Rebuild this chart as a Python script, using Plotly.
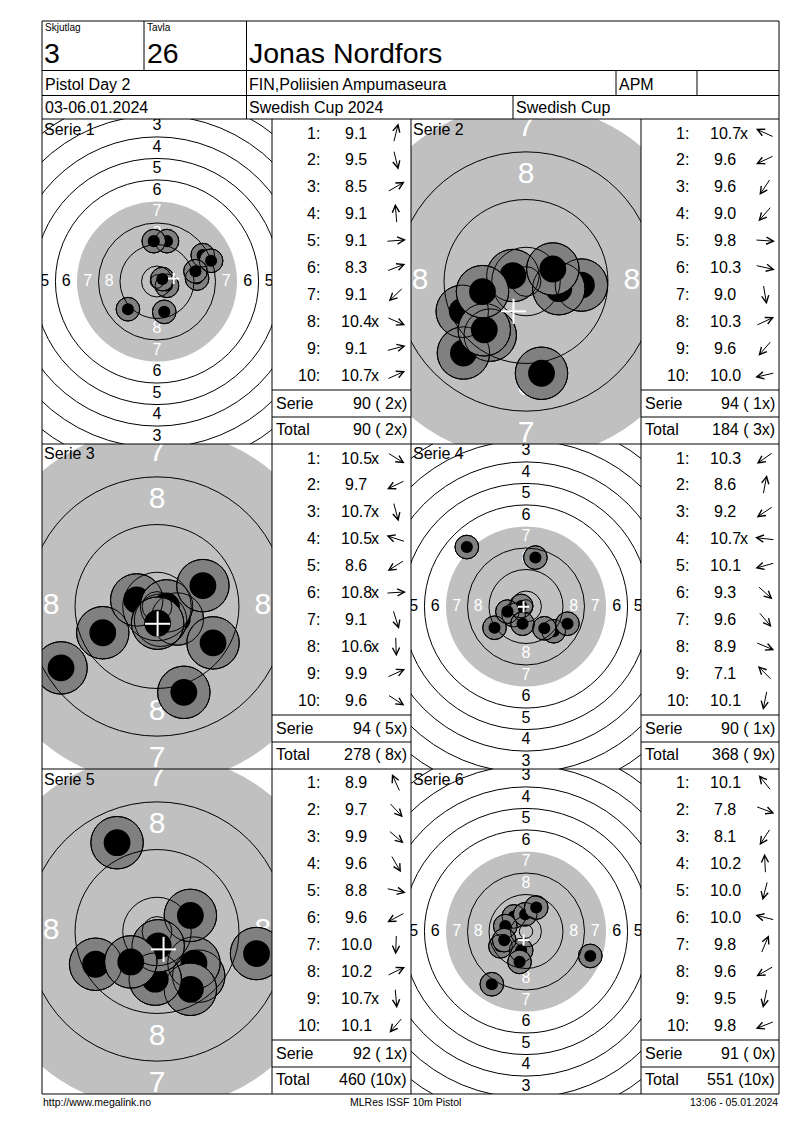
import numpy as np
import plotly.graph_objects as go

FONT = "Liberation Sans, Arial, sans-serif"
# the page body has an 8 px margin, so the figure is 8 px smaller and all
# sheet coordinates below are page pixels shifted by that margin
OFF = 8
W, H = 800 - OFF, 1130 - OFF

# header / footer texts
squad = "3"
lane = "26"
shooter = "Jonas Nordfors"
event = "Pistol Day 2"
club = "FIN,Poliisien Ampumaseura"
club_code = "APM"
dates = "03-06.01.2024"
competition = "Swedish Cup 2024"
cup = "Swedish Cup"
footer_left = "http://www.megalink.no"
footer_mid = "MLRes ISSF 10m Pistol"
footer_right = "13:06 - 05.01.2024"

# shots: score text and hit position in mm from target centre (x right, y up)
s1_scores = ["9.1", "9.5", "8.5", "9.1", "9.1", "8.3", "9.1", "10.4x", "9.1", "10.7x"]
s1_x = [3.7, 2.7, 17.0, -1.2, 14.9, 20.1, -10.8, 3.7, 14.3, 2.0]
s1_y = [15.0, -11.3, 9.8, 15.0, 1.1, 7.7, -10.3, -1.6, 3.8, 0.9]

s2_scores = ["10.7x", "9.6", "9.6", "9.0", "9.8", "10.3", "9.0", "10.3", "9.6", "10.0"]
s2_x = [-2.2, -10.7, -6.0, -10.5, 9.3, 5.5, 2.6, 4.5, -7.0, -7.3]
s2_y = [1.0, -5.0, -9.0, -12.0, -0.6, -1.2, -15.4, 2.1, -8.1, -1.7]

s3_scores = ["10.5x", "9.7", "10.7x", "10.5x", "8.6", "10.8x", "9.1", "10.6x", "9.9", "9.6"]
s3_x = [3.4, -9.1, 0.6, -3.4, -16.1, 1.6, 4.5, 0.1, 7.7, 9.4]
s3_y = [-2.1, -4.4, -2.3, 1.1, -10.3, 0.1, -14.4, -2.8, 3.5, -6.1]

s4_scores = ["10.3", "8.6", "9.2", "10.7x", "10.1", "9.3", "9.6", "8.9", "7.1", "10.1"]
s4_x = [-4.6, 3.5, -11.7, -1.8, -6.9, 10.3, 6.8, 15.4, -22.0, -1.3]
s4_y = [-3.2, 18.2, -7.9, 0.2, -1.9, -9.2, -8.1, -6.4, 22.1, -6.4]

s5_scores = ["8.9", "9.7", "9.9", "9.6", "8.8", "9.6", "10.0", "10.2", "10.7x", "10.1"]
s5_x = [-6.7, 7.0, 6.2, 5.6, 16.7, -10.3, -0.3, 5.6, 0.2, -4.4]
s5_y = [14.9, -7.5, -5.3, -9.7, -3.7, -5.5, -8.0, 2.7, -2.4, -5.1]

s6_scores = ["10.1", "7.8", "8.1", "10.2", "10.0", "10.0", "9.8", "9.6", "9.5", "9.8"]
s6_x = [-4.5, 23.9, -12.7, -0.3, -1.8, -7.7, 3.8, -9.5, -2.4, -8.1]
s6_y = [5.6, -9.1, -19.6, 6.4, -7.0, 2.0, 8.9, -5.5, -11.3, -3.2]

# mean point of impact (white cross), mm
mpi_x = [6.2, -2.1, 0.1, -0.9, 1.1, -0.9]
mpi_y = [1.1, -5.0, -2.9, -0.1, -3.0, -3.2]

serie_sum = [90, 94, 94, 90, 92, 91]
serie_inner = [2, 1, 5, 1, 1, 0]
total_sum = [90, 184, 278, 368, 460, 551]
total_inner = [2, 3, 8, 9, 10, 10]

# ISSF 10m pistol target, ring radii in mm (ring 1 .. ring 10)
ring_radii = [77.75, 69.75, 61.75, 53.75, 45.75, 37.75, 29.75, 21.75, 13.75, 5.75]
inner_ten = 2.5
black_radius = 29.75
label_rings = [1, 2, 3, 4, 5, 6, 7, 8]
hole_r, pellet_r = 4.4, 2.25

series = [
    (s1_scores, s1_x, s1_y), (s2_scores, s2_x, s2_y),
    (s3_scores, s3_x, s3_y), (s4_scores, s4_x, s4_y),
    (s5_scores, s5_x, s5_y), (s6_scores, s6_x, s6_y),
]

# page layout in pixels: target box (x0, y0, x1, y1), px per mm, table left/right
panels = [
    (42, 119, 272, 444, 2.69, 272, 411),
    (411, 119, 641, 444, 5.96, 641, 779),
    (42, 444, 272, 769, 5.96, 272, 411),
    (411, 444, 641, 769, 2.69, 641, 779),
    (42, 769, 272, 1094, 5.96, 272, 411),
    (411, 769, 641, 1094, 2.69, 641, 779),
]


def px(x):
    return (x - OFF) / W


def py(y):
    return 1 - (y - OFF) / H


fig = go.Figure()
shapes = []
annotations = []


def line(x0, y0, x1, y1, color="black", width=1):
    shapes.append(dict(type="line", xref="paper", yref="paper",
                       x0=px(x0), y0=py(y0), x1=px(x1), y1=py(y1),
                       line=dict(color=color, width=width), layer="above"))


def text(x, y, s, size=16, anchor="left", color="black"):
    annotations.append(dict(xref="paper", yref="paper", x=px(x), y=py(y), text=s,
                            showarrow=False, xanchor=anchor, yanchor="middle",
                            borderpad=0, font=dict(family=FONT, size=size, color=color)))


def circle(xr, yr, r, fill=None, color="black", width=1, layer="above", cx=0, cy=0):
    shapes.append(dict(type="circle", xref=xr, yref=yr,
                       x0=cx - r, x1=cx + r, y0=cy - r, y1=cy + r,
                       fillcolor=fill if fill else "rgba(0,0,0,0)",
                       line=dict(color=color, width=width), layer=layer))


for k, (x0, y0, x1, y1, scale, t0, t1) in enumerate(panels):
    sfx = "" if k == 0 else str(k + 1)
    xr, yr = "x" + sfx, "y" + sfx
    hw = (x1 - x0) / 2 / scale
    hh = (y1 - y0) / 2 / scale
    fig.update_layout(**{
        "xaxis" + sfx: dict(domain=[px(x0), px(x1)], range=[-hw, hw], visible=False,
                            fixedrange=True, anchor=yr),
        "yaxis" + sfx: dict(domain=[py(y1), py(y0)], range=[-hh, hh], visible=False,
                            fixedrange=True, anchor=xr),
    })
    big = scale > 4

    # black (grey) aiming area
    circle(xr, yr, black_radius, fill="#c0c0c0", color="#c0c0c0", width=0, layer="below")

    # ring numbers
    lx, ly, lt, lc = [], [], [], []
    for n in label_rings:
        r = ring_radii[n - 1] - 4
        for dx, dy in [(0, 1), (0, -1), (1, 0), (-1, 0)]:
            lx.append(dx * r)
            ly.append(dy * r)
            lt.append(str(n))
            lc.append("white" if n >= 7 else "black")
    fig.add_trace(go.Scatter(x=lx, y=ly, mode="text", text=lt, xaxis=xr, yaxis=yr,
                             textfont=dict(family=FONT, size=30 if big else 16, color=lc),
                             hoverinfo="skip", showlegend=False, cliponaxis=True))

    scores, sx, sy = series[k]
    # shots
    for x, y in zip(sx, sy):
        circle(xr, yr, hole_r, fill="#808080", cx=x, cy=y)
        circle(xr, yr, pellet_r, fill="black", width=0, cx=x, cy=y)
    # ring lines
    for r in ring_radii + [inner_ten]:
        if r != black_radius:
            circle(xr, yr, r)
    for x, y in zip(sx, sy):
        circle(xr, yr, hole_r, cx=x, cy=y)
    # mean point of impact
    c = 2.1
    for ddx, ddy in [(c, 0), (0, c)]:
        shapes.append(dict(type="line", xref=xr, yref=yr,
                           x0=mpi_x[k] - ddx, x1=mpi_x[k] + ddx,
                           y0=mpi_y[k] - ddy, y1=mpi_y[k] + ddy,
                           line=dict(color="white", width=2), layer="above"))

    text(x0 + 1, y0 + 10, "Serie %d" % (k + 1))

    # score table
    for i, (s, x, y) in enumerate(zip(scores, sx, sy)):
        ry = y0 + 14 + 26.9 * i
        text(t0 + 49, ry, "%d:" % (i + 1), anchor="right")
        text(t0 + 84, ry, s.rstrip("x"), anchor="center")
        if s.endswith("x"):
            text(t0 + 98, ry, "x")
        ang = np.arctan2(y, x)
        L = 20
        hx = t0 + 124 + L / 2 * np.cos(ang)
        hy = ry - L / 2 * np.sin(ang)
        annotations.append(dict(xref="paper", yref="paper", x=px(hx), y=py(hy),
                                ax=-L * np.cos(ang), ay=L * np.sin(ang),
                                axref="pixel", ayref="pixel", text="", showarrow=True,
                                arrowhead=5, arrowsize=1.4, arrowwidth=1,
                                arrowcolor="black", standoff=0, startstandoff=0))
    line(t0, y0 + 271, t1, y0 + 271)
    line(t0, y0 + 298, t1, y0 + 298)
    text(t0 + 3, y0 + 284.5, "Serie")
    text(t1 - 3, y0 + 284.5, "%d (%2dx)" % (serie_sum[k], serie_inner[k]), anchor="right")
    text(t0 + 3, y0 + 310.5, "Total")
    text(t1 - 3, y0 + 310.5, "%d (%2dx)" % (total_sum[k], total_inner[k]), anchor="right")

# grid of the sheet
L_, R_, T_, B_ = 42, 779, 21, 1094
line(L_, T_, R_, T_)
line(L_, B_, R_, B_)
line(L_, T_, L_, B_)
line(R_, T_, R_, B_)
for yy in [70.5, 95.5, 119, 444, 769]:
    line(L_, yy, R_, yy)
line(144, T_, 144, 70.5)
line(246.5, T_, 246.5, 119)
line(616, 70.5, 616, 95.5)
line(697, 70.5, 697, 95.5)
line(513, 95.5, 513, 119)
for xx in [272, 411, 641]:
    line(xx, 119, xx, B_)

# header texts
text(44, 27.5, "Skjutlag", size=10)
text(146, 27.5, "Tavla", size=10)
text(43, 53.5, squad, size=28.5)
text(145.5, 53.5, lane, size=28.5)
text(248, 53.5, shooter, size=28.5)
text(43.5, 84, event)
text(248, 84, club)
text(617.5, 84, club_code)
text(43.5, 108, dates)
text(248, 108, competition)
text(514.5, 108, cup)

# footer
text(42, 1102, footer_left, size=10.5)
text(405, 1102, footer_mid, size=10.5, anchor="center")
text(779, 1102, footer_right, size=10.5, anchor="right")

fig.update_layout(width=W, height=H, margin=dict(l=0, r=0, t=0, b=0),
                  paper_bgcolor="white", plot_bgcolor="white",
                  shapes=shapes, annotations=annotations, showlegend=False)
fig.write_html("out.html")
